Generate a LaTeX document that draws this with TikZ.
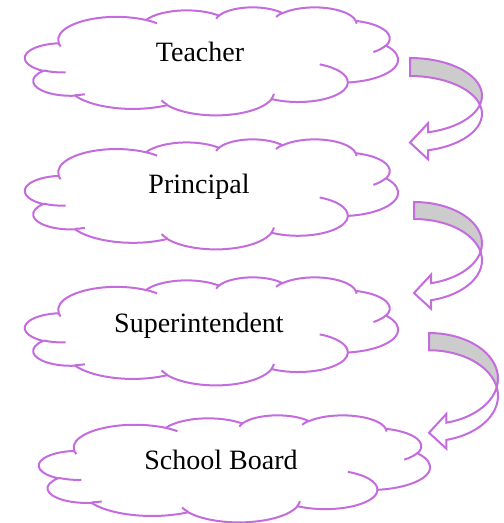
\documentclass[tikz,border=0pt]{standalone}
\usepackage{fontspec}
\setmainfont{Liberation Serif}
\usepackage{tikz}
\usetikzlibrary{positioning}

\definecolor{cloudpurple}{RGB}{196,108,222}
\definecolor{tailgray}{RGB}{204,204,204}

% elliptic arc, angles are visual angles (as in the office cloud)
\newcommand{\cloudarc}[4]{arc[x radius=#1, y radius=#2,
  start angle={atan2(#1*sin(#3),#2*cos(#3))},
  delta angle={atan2(#1*sin(#3+#4),#2*cos(#3+#4))-atan2(#1*sin(#3),#2*cos(#3))-360*round((atan2(#1*sin(#3+#4),#2*cos(#3+#4))-atan2(#1*sin(#3),#2*cos(#3))-(#4))/360)}]}

\tikzset{
  cloud line/.style={draw=cloudpurple, line width=2pt},
  arrow line/.style={draw=cloudpurple, line width=2pt, line join=miter},
  pics/officecloud/.style 2 args={code={
    \begin{scope}[xscale=#1/43.2, yscale=#2/43.2]
      \draw[cloud line, fill=white] (3.9,14.37)
        \cloudarc{6.753}{9.19}{-190.4875}{123.7805}
        \cloudarc{5.333}{7.267}{-144.1024}{89.9452}
        \cloudarc{4.365}{5.945}{-145.8079}{99.7230}
        \cloudarc{4.857}{6.595}{-130.9861}{117.2417}
        \cloudarc{5.333}{7.273}{-78.7089}{109.0269}
        \cloudarc{6.775}{9.22}{-46.2673}{130.269}
        \cloudarc{5.785}{7.867}{0.6250}{114.0333}
        \cloudarc{6.752}{9.215}{22.4516}{115.1726}
        \cloudarc{7.72}{10.543}{66.2426}{75.7110}
        \cloudarc{4.36}{5.918}{-274.9421}{146.7356}
        \cloudarc{4.345}{5.945}{-246.8285}{152.5189} -- cycle;
      \draw[cloud line]
        (4.693,26.177) \cloudarc{4.345}{5.945}{86.742}{26.4295}
        (6.928,34.899) \cloudarc{4.36}{5.918}{73.6105}{11.4475}
        (16.478,39.09) \cloudarc{6.752}{9.215}{137.6242}{14.0811}
        (28.827,34.751) \cloudarc{6.752}{9.215}{6.4533}{15.9984}
        (34.129,22.954) \cloudarc{5.785}{7.867}{-70.2924}{70.9174}
        (41.798,15.354) \cloudarc{5.333}{7.273}{30.318}{27.7515}
        (38.324,5.426) \cloudarc{4.857}{6.595}{-13.7443}{14.8589}
        (29.078,3.952) \cloudarc{4.857}{6.595}{-149.1815}{18.1954}
        (22.141,4.72) \cloudarc{4.365}{5.945}{-163.4943}{17.6864}
        (14,5.192) \cloudarc{6.753}{9.19}{-66.707}{12.3194}
        (4.127,15.789) \cloudarc{6.753}{9.19}{154.5433}{11.85};
    \end{scope}
  }},
  pics/turnarrow/.style 2 args={code={
    \pgfmathsetmacro\arrSs{min(#1,#2)}
    \pgfmathsetmacro\arrTh{0.25*\arrSs}
    \pgfmathsetmacro\arrAw{0.5*\arrSs}
    \pgfmathsetmacro\arrAh{0.25*\arrSs}
    \pgfmathsetmacro\arrHr{#2/2-(\arrTh+\arrAw)/4}
    \pgfmathsetmacro\arrPa{asin(\arrTh/(2*\arrHr))}
    \pgfmathsetmacro\arrPb{acos(\arrAh/#1)}
    \pgfmathsetmacro\arrDh{(\arrAw-\arrTh)/2}
    \pgfmathsetmacro\arrYfive{\arrHr+\arrHr*sin(\arrPb)}
    \pgfmathsetmacro\arrYseven{\arrYfive+\arrTh}
    % back part
    \draw[arrow line, fill=tailgray] (0,0)
      arc[x radius=#1, y radius=\arrHr, start angle=-90, end angle=\arrPa]
      arc[x radius=#1, y radius=\arrHr, start angle=-\arrPa, end angle=-90] -- cycle;
    % front part
    \draw[arrow line, fill=white] ({#1*cos(\arrPa)},{\arrHr*(1+sin(\arrPa))})
      arc[x radius=#1, y radius=\arrHr, start angle=-\arrPa, end angle=\arrPb]
      -- (\arrAh,\arrYseven+\arrDh) -- (0,#2-\arrAw/2)
      -- (\arrAh,\arrYfive-\arrDh) -- (\arrAh,\arrYfive)
      arc[x radius=#1, y radius=\arrHr, start angle=\arrPb, end angle=\arrPa] -- cycle;
  }},
}

\begin{document}
\begin{tikzpicture}[x=1pt, y=-1pt]
% Define styles
\tikzstyle{cloudtext} = [font=\fontsize{28}{34}\selectfont, anchor=base, inner sep=0pt]
\useasboundingbox (0,0) rectangle (504,523);
% Draw clouds
\pic at (25,7) {officecloud={373}{108}};
\pic at (25,139) {officecloud={373}{110}};
\pic at (25,277) {officecloud={373}{108}};
\pic at (39,415) {officecloud={391}{107}};
% Define nodes
\node[cloudtext] (teacher) at (200,61) {Teacher};
\node[cloudtext] (principal) at (199,193) {Principal};
\node[cloudtext] (superintendent) at (199,332) {Superintendent};
\node[cloudtext] (board) at (221,469) {School Board};
% Draw arrows
\pic at (410,58) {turnarrow={72}{102.5}};
\pic at (414,202) {turnarrow={68}{108}};
\pic at (429,333) {turnarrow={69}{117}};
\end{tikzpicture}
\end{document}
